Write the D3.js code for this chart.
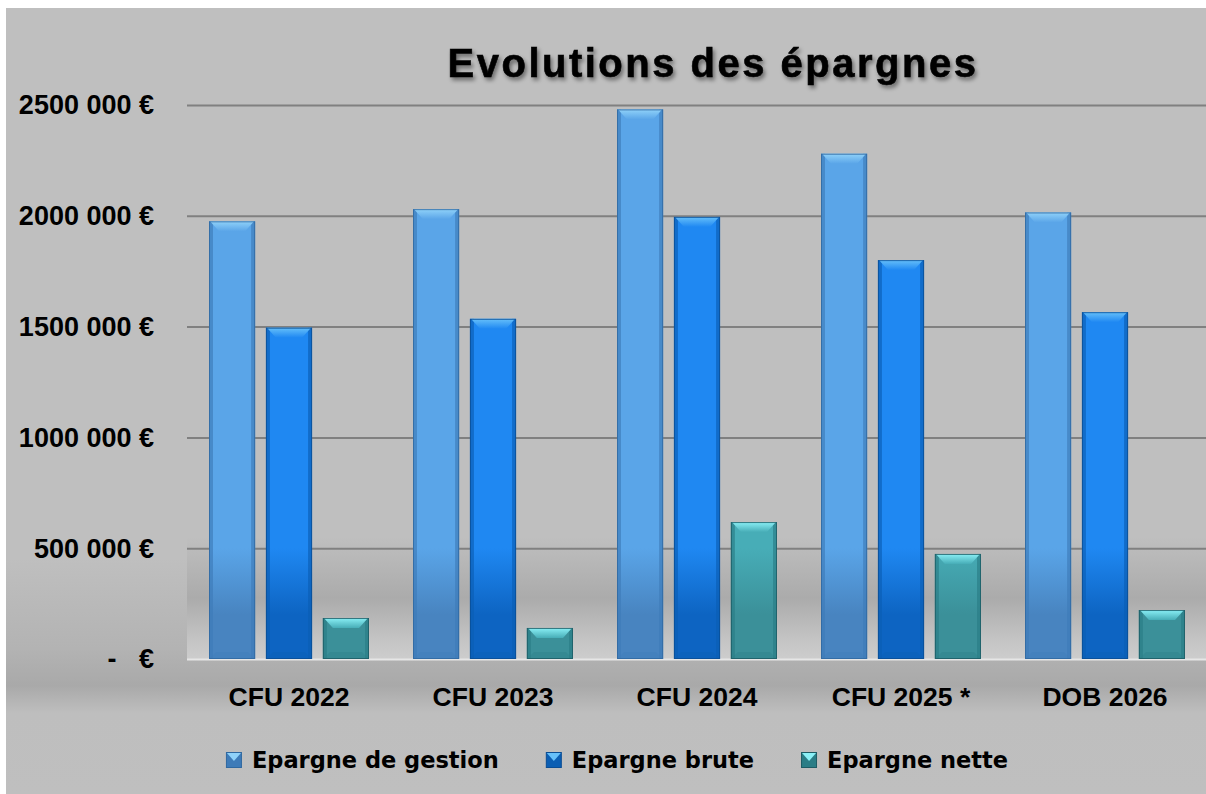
<!DOCTYPE html>
<html>
<head>
<meta charset="utf-8">
<script src="https://cdn.jsdelivr.net/npm/d3@7"></script>
<style>
  html, body { margin: 0; padding: 0; background: #ffffff; }
  svg { display: block; }
  text { font-family: "Liberation Sans", Arial, sans-serif; font-weight: bold; fill: #000; white-space: pre; }
  .legend text { font-family: "DejaVu Sans", sans-serif; }
</style>
</head>
<body>
<div id="chart"></div>
<script>
// Data
var categories = ["CFU 2022", "CFU 2023", "CFU 2024", "CFU 2025 *", "DOB 2026"];
var seriesNames = ["Epargne de gestion", "Epargne brute", "Epargne nette"];
var epargneGestion = [1975000, 2030000, 2480000, 2280000, 2015000];
var epargneBrute   = [1495000, 1535000, 1995000, 1800000, 1565000];
var epargneNette   = [185000, 140000, 618000, 474000, 221000];
var yTicks = [0, 500000, 1000000, 1500000, 2000000, 2500000];
var title = "Evolutions des épargnes";

var seriesValues = [epargneGestion, epargneBrute, epargneNette];

// colours per series: face top / face bottom / bevel light / side / edge
var palette = [
  {top: "#5aa5e8", bottom: "#4884c0", light: "#90d2f9", side: "#3e7bb8", edge: "#2f68a0"},
  {top: "#1f88f2", bottom: "#0d64c2", light: "#66c0fa", side: "#0b5eb3", edge: "#0a4d94"},
  {top: "#47adb7", bottom: "#3b9099", light: "#8af0f6", side: "#2a7d86", edge: "#1d5b64"}
];

var W = 1206, H = 794;
var plot = {left: 187, right: 1207, top: 105, bottom: 659};

var svg = d3.select("#chart").append("svg")
  .attr("width", W)
  .attr("height", H);

var defs = svg.append("defs");

// chart area background
var bg = defs.append("linearGradient").attr("id", "bgGrad")
  .attr("x1", 0).attr("y1", 0).attr("x2", 0).attr("y2", 1);
[[0, "#bfbfbf"], [0.70, "#bfbfbf"], [0.815, "#b3b3b3"], [0.862, "#a9a9a9"], [0.897, "#bebebe"], [1, "#bfbfbf"]]
  .forEach(function(s) { bg.append("stop").attr("offset", s[0]).attr("stop-color", s[1]); });

// plot area background
var pg = defs.append("linearGradient").attr("id", "plotGrad")
  .attr("x1", 0).attr("y1", 0).attr("x2", 0).attr("y2", 1);
[[0, "#bfbfbf"], [0.78, "#bfbfbf"], [0.89, "#ababab"], [0.965, "#c4c4c4"], [1, "#cdcdcd"]]
  .forEach(function(s) { pg.append("stop").attr("offset", s[0]).attr("stop-color", s[1]); });

// bar face gradients (in user space so the lower part darkens like the background)
palette.forEach(function(p, i) {
  var g = defs.append("linearGradient").attr("id", "face" + i)
    .attr("gradientUnits", "userSpaceOnUse")
    .attr("x1", 0).attr("y1", plot.top).attr("x2", 0).attr("y2", plot.bottom);
  g.append("stop").attr("offset", 0).attr("stop-color", p.top);
  g.append("stop").attr("offset", 0.8).attr("stop-color", p.top);
  g.append("stop").attr("offset", 0.92).attr("stop-color", p.bottom);
  g.append("stop").attr("offset", 1).attr("stop-color", p.bottom);

  var l = defs.append("linearGradient").attr("id", "light" + i)
    .attr("x1", 0).attr("y1", 0).attr("x2", 0).attr("y2", 1);
  l.append("stop").attr("offset", 0).attr("stop-color", p.light);
  l.append("stop").attr("offset", 1).attr("stop-color", p.top);
});

var shadow = defs.append("filter").attr("id", "titleShadow")
  .attr("x", "-10%").attr("y", "-30%").attr("width", "120%").attr("height", "160%");
shadow.append("feDropShadow")
  .attr("dx", 2).attr("dy", 3).attr("stdDeviation", 2)
  .attr("flood-color", "#000").attr("flood-opacity", 0.45);

svg.append("rect")
  .attr("x", 6).attr("y", 8)
  .attr("width", W - 6).attr("height", H - 8)
  .attr("fill", "url(#bgGrad)");

svg.append("rect")
  .attr("x", plot.left).attr("y", plot.top)
  .attr("width", W - plot.left).attr("height", plot.bottom - plot.top)
  .attr("fill", "url(#plotGrad)");

// scales
var x0 = d3.scaleBand()
  .domain(categories)
  .range([plot.left, plot.right])
  .padding(0);

var x1 = d3.scaleBand()
  .domain(seriesNames)
  .range([22, x0.bandwidth() - 22])
  .paddingInner(0.19)
  .paddingOuter(0);

var y = d3.scaleLinear()
  .domain([0, 2500000])
  .range([plot.bottom, plot.top]);

// Excel style "2500 000 €"
function euro(v) {
  if (v === 0) return "-   €";
  var s = String(v);
  return s.slice(0, s.length - 3) + " " + s.slice(-3) + " €";
}

// y axis with gridlines
var yAxis = svg.append("g")
  .attr("transform", "translate(" + plot.left + ",0)")
  .call(d3.axisLeft(y)
    .tickValues(yTicks)
    .tickSize(-(W - plot.left))
    .tickPadding(33)
    .tickFormat(euro));
yAxis.select(".domain").remove();
yAxis.selectAll(".tick line")
  .attr("stroke", function(d) { return d === 0 ? "#e6e6e6" : "#808080"; })
  .attr("stroke-width", 2);
yAxis.selectAll(".tick text")
  .attr("font-size", 27)
  .attr("font-family", "Liberation Sans, Arial, sans-serif")
  .attr("font-weight", "bold")
  .attr("fill", "#000")
  .attr("dy", "0.33em");

// bars
var groups = svg.append("g").selectAll("g")
  .data(categories)
  .join("g")
  .attr("transform", function(d) { return "translate(" + x0(d) + ",0)"; });

var bars = groups.selectAll("g.bar")
  .data(function(c, ci) {
    return seriesNames.map(function(s, si) { return {series: s, si: si, value: seriesValues[si][ci]}; });
  })
  .join("g")
  .attr("class", "bar");

bars.each(function(d) {
  var g = d3.select(this);
  var p = palette[d.si];
  var bx = x1(d.series), bw = x1.bandwidth();
  var by = y(d.value), bh = y(0) - y(d.value);
  var b = Math.min(10, bh / 2, bw / 2);

  g.append("rect")
    .attr("x", bx).attr("y", by).attr("width", bw).attr("height", bh)
    .attr("fill", "url(#face" + d.si + ")");

  // dark side edges
  g.append("rect")
    .attr("x", bx).attr("y", by).attr("width", 4).attr("height", bh)
    .attr("fill", p.side).attr("opacity", 0.65);
  g.append("rect")
    .attr("x", bx + bw - 4).attr("y", by).attr("width", 4).attr("height", bh)
    .attr("fill", p.side).attr("opacity", 0.65);

  // bottom bevel
  g.append("path")
    .attr("d", d3.line()([[bx, by + bh], [bx + bw, by + bh], [bx + bw - b * 0.7, by + bh - b * 0.7], [bx + b * 0.7, by + bh - b * 0.7]]))
    .attr("fill", p.side).attr("opacity", 0.35);

  // top bevel
  g.append("path")
    .attr("d", d3.line()([[bx + 1, by], [bx + bw - 1, by], [bx + bw - b, by + b], [bx + b, by + b]]))
    .attr("fill", "url(#light" + d.si + ")");

  g.append("rect")
    .attr("x", bx + 0.5).attr("y", by + 0.5).attr("width", bw - 1).attr("height", bh - 1)
    .attr("fill", "none").attr("stroke", p.edge).attr("stroke-width", 1).attr("opacity", 0.8);
});

// x labels
var xAxis = svg.append("g")
  .attr("transform", "translate(0," + plot.bottom + ")")
  .call(d3.axisBottom(x0).tickSize(0).tickPadding(38));
xAxis.select(".domain").remove();
xAxis.selectAll(".tick text")
  .attr("font-size", 26.5)
  .attr("font-family", "Liberation Sans, Arial, sans-serif")
  .attr("font-weight", "bold")
  .attr("fill", "#000")
  .attr("dy", "0.35em");

// title
svg.append("text")
  .attr("x", 713)
  .attr("y", 77)
  .attr("text-anchor", "middle")
  .attr("font-size", 40)
  .attr("letter-spacing", 2.5)
  .attr("stroke", "#000")
  .attr("stroke-width", 0.6)
  .attr("filter", "url(#titleShadow)")
  .text(title);

// legend
var legend = svg.append("g").attr("class", "legend");
var legendItems = legend.selectAll("g")
  .data(seriesNames)
  .join("g");

legendItems.each(function(d, i) {
  var g = d3.select(this);
  var p = palette[i];
  g.append("rect").attr("x", 0.5).attr("y", -7.5).attr("width", 15).attr("height", 15)
    .attr("fill", p.side).attr("stroke", p.edge).attr("stroke-width", 1);
  g.append("path")
    .attr("d", d3.line()([[1, -7], [15, -7], [8, 1]]))
    .attr("fill", p.light);
  g.append("text")
    .attr("x", 26)
    .attr("dy", "0.36em")
    .attr("font-size", 22.5)
    .text(d);
});

var offset = 0, widths = [];
legendItems.each(function() {
  var tw = d3.select(this).select("text").node().getComputedTextLength();
  widths.push(26 + tw);
});
var total = d3.sum(widths) + 47 * (widths.length - 1);
var start = 617 - total / 2;
legendItems.attr("transform", function(d, i) {
  var x = start + offset;
  offset += widths[i] + 47;
  return "translate(" + x + ",760)";
});
</script>
</body>
</html>
